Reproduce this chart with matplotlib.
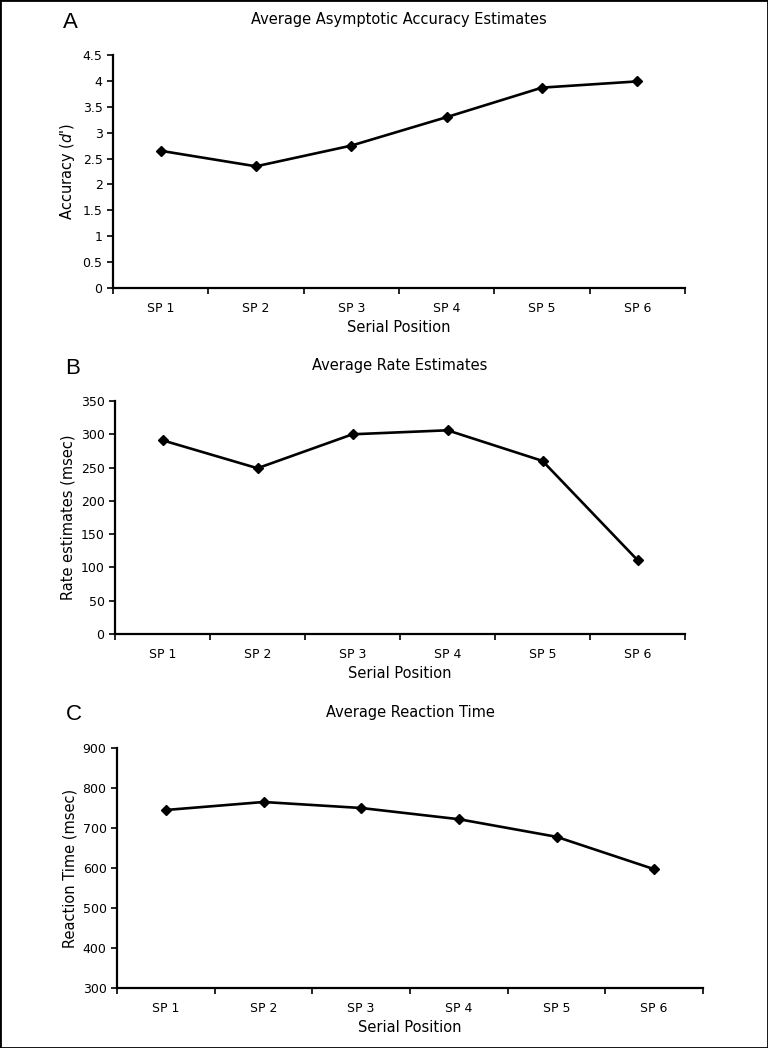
import numpy as np
import matplotlib.pyplot as plt
from matplotlib.patches import Rectangle

positions = ['SP 1', 'SP 2', 'SP 3', 'SP 4', 'SP 5', 'SP 6']
accuracy = [2.65, 2.35, 2.75, 3.30, 3.87, 3.99]
rate = [291, 249, 300, 306, 260, 111]
reaction = [745, 765, 750, 722, 678, 597]

panels = [
    ('A', 'Average Asymptotic Accuracy Estimates', accuracy, 'Accuracy ($d$\')',
     (0, 4.5), np.arange(0, 4.51, 0.5)),
    ('B', 'Average Rate Estimates', rate, 'Rate estimates (msec)',
     (0, 350), np.arange(0, 351, 50)),
    ('C', 'Average Reaction Time', reaction, 'Reaction Time (msec)',
     (300, 900), np.arange(300, 901, 100)),
]

# axes boxes in pixels: left, right, top(y of max), bottom(y of min)
boxes = [(113, 685, 55, 288), (115, 685, 401, 634), (117, 703, 748, 988)]

W, H = 768, 1048
fig = plt.figure(figsize=(W / 100, H / 100), dpi=100)
fig.patches.append(Rectangle((0, 0), 1, 1, transform=fig.transFigure,
                             fill=False, edgecolor='black', linewidth=2))

for (letter, title, vals, ylabel, ylim, yticks), (l, r, t, b) in zip(panels, boxes):
    ax = fig.add_axes([l / W, 1 - b / H, (r - l) / W, (b - t) / H])
    x = np.arange(len(positions)) + 0.5
    ax.plot(x, vals, color='black', linewidth=1.9, marker='D', markersize=5.5)
    ax.set_xlim(0, len(positions))
    ax.set_ylim(*ylim)
    ax.set_yticks(yticks)
    ax.set_yticklabels([f'{v:g}' for v in yticks], fontsize=9)
    ax.set_xticks(np.arange(len(positions) + 1))
    ax.set_xticklabels([])
    ax.set_xticks(x, minor=True)
    ax.set_xticklabels(positions, minor=True, fontsize=9)
    ax.tick_params(axis='x', which='minor', length=0, pad=10)
    ax.tick_params(axis='both', which='major', direction='out', length=4, width=1.2)
    for s in ['top', 'right']:
        ax.spines[s].set_visible(False)
    for s in ['left', 'bottom']:
        ax.spines[s].set_linewidth(1.6)
    ax.set_xlabel('Serial Position', fontsize=10.5, labelpad=4)
    ax.set_ylabel(ylabel, fontsize=10.5, labelpad=4)
    ax.set_title(title, fontsize=10.5, pad=22)
    ax.text(-0.088, 1.14, letter, transform=ax.transAxes, fontsize=16,
            family='Liberation Sans', va='center', ha='left')

fig.savefig('out.png', dpi=100)
plt.close(fig)
